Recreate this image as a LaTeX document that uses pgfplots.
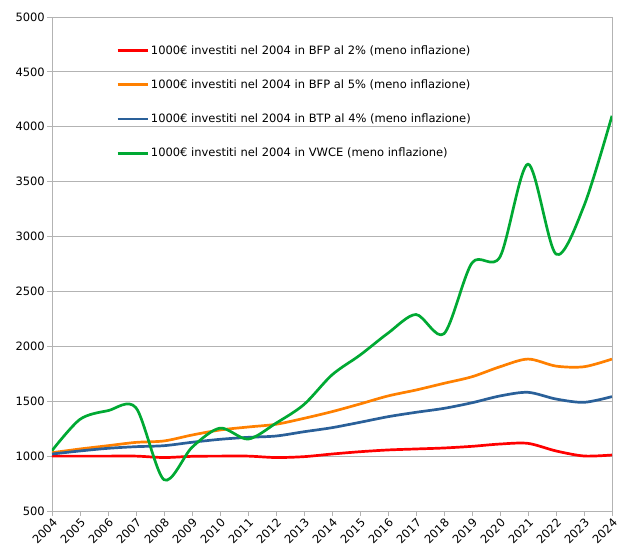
\documentclass[border=0pt]{standalone}
\usepackage{pgfplots}
\pgfplotsset{compat=1.18}
\usepackage{fontspec}
\setmainfont{DejaVu Sans}
\definecolor{cred}{HTML}{FF0000}
\definecolor{corange}{HTML}{FF8000}
\definecolor{cblue}{HTML}{2A6099}
\definecolor{cgreen}{HTML}{00A933}
\definecolor{cgrid}{HTML}{B3B3B3}
\begin{document}
\begin{tikzpicture}
\path[use as bounding box] (-52pt,-46pt) rectangle (575pt,511pt);
\begin{axis}[
  at={(0pt,0pt)}, anchor=south west,
  scale only axis, width=560pt, height=494pt,
  xmin=2004, xmax=2024, ymin=500, ymax=5000,
  xtick={2004,...,2024}, ytick={500,1000,...,5000},
  /pgf/number format/assume math mode=true,
  /pgf/number format/1000 sep={},
  x tick label style={rotate=45, anchor=north east, inner sep=1pt, font=\fontsize{11.5}{13}\selectfont},
  y tick label style={font=\fontsize{11.5}{13}\selectfont, inner sep=2pt},
  ymajorgrids, grid style={color=cgrid, line width=0.8pt},
  axis line style={cgrid, line width=0.8pt},
  tick style={cgrid, line width=0.8pt},
  tick align=outside, major tick length=5pt, tick pos=left,
  legend style={at={(rel axis cs:0.109,0.951)}, anchor=north west, draw=none, fill=none,
    font=\fontsize{11.5}{13}\selectfont, row sep=20pt, cells={anchor=west}},
  legend image code/.code={\draw[#1] (0pt,0pt) -- (30pt,0pt);},
  every axis plot/.append style={line width=2.7pt, smooth, no markers, line join=round},
]
\addplot[cred] coordinates {
(2004,1000)(2005,1000)(2006,1000)(2007,1000)(2008,987)(2009,998)(2010,1000)(2011,1000)(2012,987)(2013,995)
(2014,1019)(2015,1040)(2016,1056)(2017,1065)(2018,1074)(2019,1089)(2020,1110)(2021,1116)(2022,1047)(2023,1001)(2024,1010)};
\addlegendentry{1000€ investiti nel 2004 in BFP al 2\% (meno inflazione)}
\addplot[corange] coordinates {
(2004,1031)(2005,1065)(2006,1095)(2007,1125)(2008,1138)(2009,1192)(2010,1238)(2011,1265)(2012,1290)(2013,1344)
(2014,1405)(2015,1475)(2016,1548)(2017,1602)(2018,1663)(2019,1723)(2020,1814)(2021,1884)(2022,1820)(2023,1814)(2024,1884)};
\addlegendentry{1000€ investiti nel 2004 in BFP al 5\% (meno inflazione)}
\addplot[cblue] coordinates {
(2004,1019)(2005,1047)(2006,1071)(2007,1086)(2008,1095)(2009,1126)(2010,1153)(2011,1171)(2012,1183)(2013,1222)
(2014,1259)(2015,1308)(2016,1359)(2017,1399)(2018,1435)(2019,1486)(2020,1548)(2021,1581)(2022,1520)(2023,1490)(2024,1542)};
\addlegendentry{1000€ investiti nel 2004 in BTP al 4\% (meno inflazione)}
\addplot[cgreen] coordinates {
(2004,1050)(2005,1335)(2006,1414)(2007,1440)(2008,785)(2009,1080)(2010,1255)(2011,1155)(2012,1300)(2013,1470)
(2014,1740)(2015,1920)(2016,2120)(2017,2290)(2018,2115)(2019,2760)(2020,2815)(2021,3660)(2022,2840)(2023,3280)(2024,4100)};
\addlegendentry{1000€ investiti nel 2004 in VWCE (meno inflazione)}
\end{axis}
\end{tikzpicture}
\end{document}
